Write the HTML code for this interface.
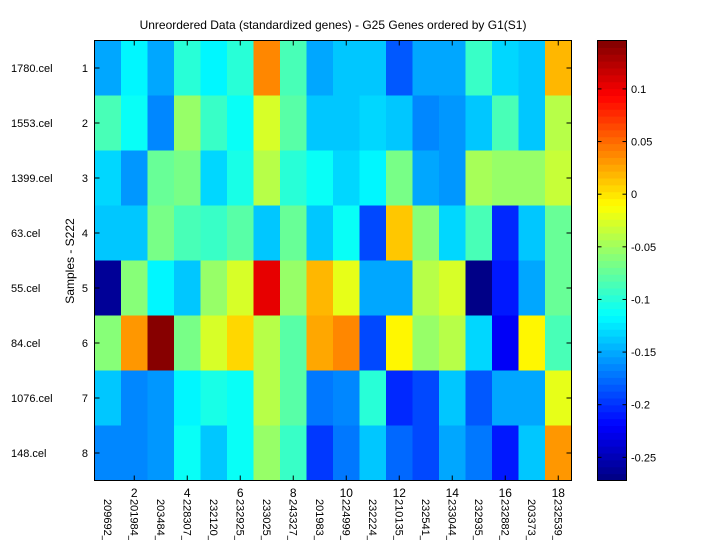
<!DOCTYPE html>
<html><head><meta charset="utf-8"><style>
html,body{margin:0;padding:0;background:#fff;}
svg text{font-family:"Liberation Sans",Arial,sans-serif;}
</style></head><body>
<svg id="chart" width="720" height="540" xmlns="http://www.w3.org/2000/svg">
<rect width="720" height="540" fill="#fff"/>
<text x="333" y="29" font-size="12" text-anchor="middle">Unreordered Data (standardized genes) - G25 Genes ordered by G1(S1)</text>
<text transform="translate(74,261) rotate(-90)" font-size="12" text-anchor="middle">Samples - S222</text>
<g id="cells"></g>
<g id="axes"></g>
<g id="cbar"></g>
</svg>
<script>
const samples = ["1780.cel","1553.cel","1399.cel","63.cel","55.cel","84.cel","1076.cel","148.cel"];
const genes = ["209692_","201984_","203484_","228307_","232120_","232925_","233025_","243327_","201983_","224999_","232224_","210135_","232541_","233044_","232935_","232882_","203373_","232539_"];
const xTickLabels = ["2","4","6","8","10","12","14","16","18"];
const cbarTicks = [0.1,0.05,0,-0.05,-0.1,-0.15,-0.2,-0.25];
const cbarTickLabels = ["0.1","0.05","0","-0.05","-0.1","-0.15","-0.2","-0.25"];
const row1 = [-0.154,-0.12,-0.154,-0.10,-0.12,-0.10,0.041,-0.087,-0.154,-0.141,-0.141,-0.185,-0.154,-0.148,-0.094,-0.129,-0.135,0.016];
const row2 = [-0.087,-0.114,-0.166,-0.05,-0.094,-0.114,-0.025,-0.081,-0.141,-0.138,-0.129,-0.141,-0.166,-0.16,-0.138,-0.087,-0.141,-0.038];
const row3 = [-0.129,-0.16,-0.075,-0.069,-0.129,-0.107,-0.038,-0.10,-0.114,-0.129,-0.12,-0.069,-0.154,-0.16,-0.044,-0.056,-0.05,-0.031];
const row4 = [-0.141,-0.135,-0.069,-0.087,-0.094,-0.081,-0.135,-0.075,-0.135,-0.114,-0.191,0.01,-0.063,-0.129,-0.087,-0.205,-0.135,-0.075];
const row5 = [-0.262,-0.063,-0.12,-0.138,-0.05,-0.025,0.104,-0.05,0.016,-0.018,-0.148,-0.154,-0.038,-0.025,-0.27,-0.21,-0.148,-0.075];
const row6 = [-0.063,0.029,0.145,-0.069,-0.025,0.004,-0.038,-0.081,0.022,0.035,-0.191,-0.005,-0.056,-0.038,-0.129,-0.225,-0.005,-0.087];
const row7 = [-0.135,-0.166,-0.16,-0.12,-0.107,-0.114,-0.038,-0.081,-0.172,-0.166,-0.10,-0.205,-0.191,-0.141,-0.185,-0.154,-0.154,-0.018];
const row8 = [-0.166,-0.166,-0.16,-0.114,-0.135,-0.114,-0.05,-0.094,-0.197,-0.172,-0.135,-0.178,-0.191,-0.154,-0.172,-0.21,-0.135,0.029];
const rows = [row1,row2,row3,row4,row5,row6,row7,row8];

const vmin=-0.272, vmax=0.146;
const PX0=94.5, PX1=571.5, PY0=40.5, PY1=480.5;
const CBX0=597.5, CBX1=626.5;
const NS="http://www.w3.org/2000/svg";
const xCol = i => PX0 + i*(PX1-PX0)/genes.length;
const yRow = j => PY0 + j*(PY1-PY0)/samples.length;
const yCb = v => PY1 - (v-vmin)/(vmax-vmin)*(PY1-PY0);
function jet(v){
  let t=(v-vmin)/(vmax-vmin); t=Math.max(0,Math.min(1,t));
  t=(Math.min(63,Math.floor(t*64))+0.5)/64;
  const c=x=>Math.round(255*Math.max(0,Math.min(1,1.5-Math.abs(x))));
  return `rgb(${c(4*t-3)},${c(4*t-2)},${c(4*t-1)})`;
}
function mk(tag,attrs,parent){const e=document.createElementNS(NS,tag);for(const k in attrs)e.setAttribute(k,attrs[k]);parent.appendChild(e);return e;}
const cells=document.getElementById('cells'), axes=document.getElementById('axes'), cbar=document.getElementById('cbar');
rows.forEach((r,j)=>r.forEach((v,i)=>{
  const e=mk('rect',{x:xCol(i),y:yRow(j),width:xCol(i+1)-xCol(i)+0.5,height:yRow(j+1)-yRow(j)+0.5,fill:jet(v)},cells);
  
  
}));
const frame=mk('rect',{x:PX0,y:PY0,width:PX1-PX0,height:PY1-PY0,fill:'none',stroke:'#000','stroke-width':1},axes);


samples.forEach((s,j)=>{
  const yc=(yRow(j)+yRow(j+1))/2;
  mk('line',{x1:PX0,x2:PX0+5,y1:yc,y2:yc,stroke:'#000'},axes);
  mk('line',{x1:PX1,x2:PX1-5,y1:yc,y2:yc,stroke:'#000'},axes);
  const n=mk('text',{x:88,y:yc+4,'font-size':11,'text-anchor':'end'},axes);n.textContent=String(j+1);
  
  
  const t=mk('text',{x:11,y:yc+4,'font-size':11},axes);t.textContent=s;
  
  
});
xTickLabels.forEach((lab,k)=>{
  const i=(k+1)*2-1;
  const xc=(xCol(i)+xCol(i+1))/2;
  mk('line',{x1:xc,x2:xc,y1:PY1,y2:PY1-5,stroke:'#000'},axes);
  mk('line',{x1:xc,x2:xc,y1:PY0,y2:PY0+5,stroke:'#000'},axes);
  const t=mk('text',{x:xc,y:497,'font-size':12,'text-anchor':'middle'},axes);t.textContent=lab;
  
  
});
genes.forEach((g,i)=>{
  const xc=(xCol(i)+xCol(i+1))/2;
  const t=mk('text',{transform:`translate(${xc-4},499) rotate(90)`,'font-size':11},axes);t.textContent=g;
  
  
});
const N=64;
for(let k=0;k<N;k++){
  const v0=vmin+(vmax-vmin)*k/N, v1=vmin+(vmax-vmin)*(k+1)/N;
  const e=mk('rect',{x:CBX0,y:yCb(v1),width:CBX1-CBX0,height:yCb(v0)-yCb(v1)+0.5,fill:jet((v0+v1)/2)},cbar);
  
  
}
mk('rect',{x:CBX0,y:PY0,width:CBX1-CBX0,height:PY1-PY0,fill:'none',stroke:'#000'},cbar);
cbarTicks.forEach((v,k)=>{
  const y=yCb(v);
  mk('line',{x1:CBX0,x2:CBX0+4,y1:y,y2:y,stroke:'#000'},cbar);
  mk('line',{x1:CBX1,x2:CBX1-4,y1:y,y2:y,stroke:'#000'},cbar);
  const t=mk('text',{x:631,y:y+4,'font-size':11},cbar);t.textContent=cbarTickLabels[k];
  
  
});
</script>
</body></html>
